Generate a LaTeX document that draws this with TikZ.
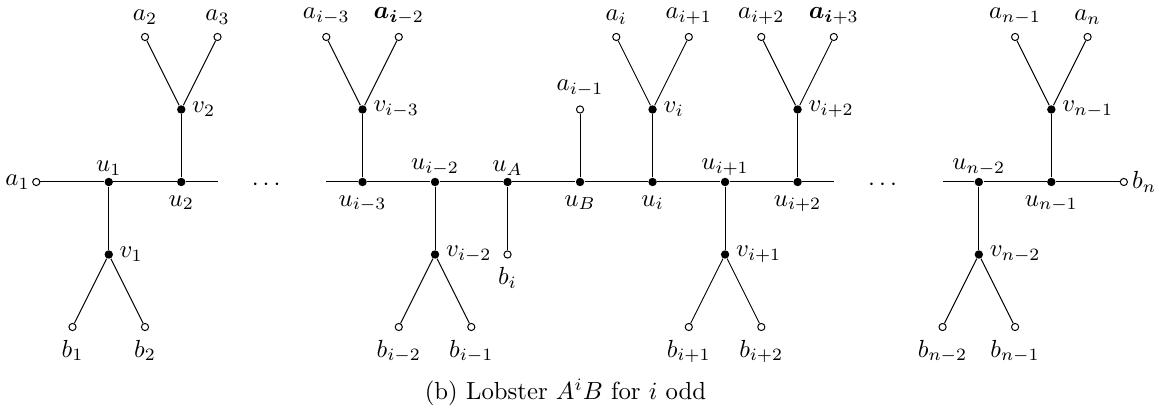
\documentclass[tikz,border=0pt]{standalone}
\usepackage{amsmath}
\usepackage{amssymb}
\usepackage{tikz}

\begin{document}
\begin{tikzpicture}[x=1.03cm,y=1.03cm,
  vtx/.style={circle,fill=black,inner sep=0pt,minimum size=3.4pt},
  leaf/.style={circle,draw=black,fill=white,inner sep=0pt,minimum size=2.9pt},
  up/.style={label={[label distance=-2.8pt]above:{#1}}},
  side/.style={label={[label distance=-1pt]right:{#1}}}]
\useasboundingbox (0,-3.145) rectangle (16.04,2.51);

% First block: a1 - u1 - u2
\node[leaf,label={[label distance=-2.5pt]left:{$a_1$}}] (a1) at (0.5,0) {};
\node[vtx,up={$u_1$}] (u1) at (1.5,0) {};
\node[vtx,label=below:{$u_2$}] (u2) at (2.5,0) {};
\coordinate (e1) at (3,0);
\node[vtx,side={$v_1$}] (v1) at (1.5,-1) {};
\node[vtx,side={$v_2$}] (v2) at (2.5,1) {};
\node[leaf,label=below:{$b_1$}] (b1) at (1,-2) {};
\node[leaf,label=below:{$b_2$}] (b2) at (2,-2) {};
\node[leaf,label=above:{$a_2$}] (a2) at (2,2) {};
\node[leaf,label=above:{$a_3$}] (a3) at (3,2) {};

\draw (a1) -- (u1) -- (u2) -- (e1);
\draw (u1) -- (v1);
\draw (b1) -- (v1) -- (b2);
\draw (u2) -- (v2);
\draw (a2) -- (v2) -- (a3);

\node[yshift=-1.1pt] (dots1) at (3.7,0) {$\cdots$};

% Middle block: u_{i-3} ... u_{i+2}
\coordinate (s2) at (4.5,0);
\coordinate (e2) at (11.5,0);
\node[vtx,label=below:{$u_{i-3}$}] (ui3) at (5,0) {};
\node[vtx,up={$u_{i-2}$}] (ui2) at (6,0) {};
\node[vtx,up={$u_A$}] (uA) at (7,0) {};
\node[vtx,label=below:{$u_B$}] (uB) at (8,0) {};
\node[vtx,label=below:{$u_i$}] (ui) at (9,0) {};
\node[vtx,up={$u_{i+1}$}] (uip1) at (10,0) {};
\node[vtx,label=below:{$u_{i+2}$}] (uip2) at (11,0) {};

\draw (s2) -- (ui3) -- (ui2) -- (uA) -- (uB) -- (ui) -- (uip1) -- (uip2) -- (e2);

\node[vtx,side={$v_{i-3}$}] (vi3) at (5,1) {};
\node[leaf,label=above:{$a_{i-3}$}] (ai3) at (4.5,2) {};
\node[leaf,label=above:{$\boldsymbol{a}_{\boldsymbol{i}-2}$}] (ai2) at (5.5,2) {};
\draw (ui3) -- (vi3);
\draw (ai3) -- (vi3) -- (ai2);

\node[vtx,side={$v_{i-2}$}] (vi2) at (6,-1) {};
\node[leaf,label=below:{$b_{i-2}$}] (bi2) at (5.5,-2) {};
\node[leaf,label=below:{$b_{i-1}$}] (bi1) at (6.5,-2) {};
\draw (ui2) -- (vi2);
\draw (bi2) -- (vi2) -- (bi1);

\node[leaf,label=below:{$b_i$}] (bi) at (7,-1) {};
\draw (uA) -- (bi);

\node[leaf,label=above:{$a_{i-1}$}] (ai1) at (8,1) {};
\draw (uB) -- (ai1);

\node[vtx,side={$v_i$}] (vi) at (9,1) {};
\node[leaf,label=above:{$a_i$}] (ai) at (8.5,2) {};
\node[leaf,label=above:{$a_{i+1}$}] (aip1) at (9.5,2) {};
\draw (ui) -- (vi);
\draw (ai) -- (vi) -- (aip1);

\node[vtx,side={$v_{i+1}$}] (vip1) at (10,-1) {};
\node[leaf,label=below:{$b_{i+1}$}] (bip1) at (9.5,-2) {};
\node[leaf,label=below:{$b_{i+2}$}] (bip2) at (10.5,-2) {};
\draw (uip1) -- (vip1);
\draw (bip1) -- (vip1) -- (bip2);

\node[vtx,side={$v_{i+2}$}] (vip2) at (11,1) {};
\node[leaf,label=above:{$a_{i+2}$}] (aip2) at (10.5,2) {};
\node[leaf,label=above:{$\boldsymbol{a}_{\boldsymbol{i}+3}$}] (aip3) at (11.5,2) {};
\draw (uip2) -- (vip2);
\draw (aip2) -- (vip2) -- (aip3);

\node[yshift=-1.1pt] (dots2) at (12.2,0) {$\cdots$};

% Last block: u_{n-2} - u_{n-1} - b_n
\coordinate (s3) at (13,0);
\node[vtx,up={$u_{n-2}$}] (un2) at (13.5,0) {};
\node[vtx,label=below:{$u_{n-1}$}] (un1) at (14.5,0) {};
\node[leaf,label={[label distance=-1.8pt]right:{$b_n$}}] (bn) at (15.5,0) {};
\draw (s3) -- (un2) -- (un1) -- (bn);

\node[vtx,side={$v_{n-2}$}] (vn2) at (13.5,-1) {};
\node[leaf,label=below:{$b_{n-2}$}] (bn2) at (13,-2) {};
\node[leaf,label=below:{$b_{n-1}$}] (bn1) at (14,-2) {};
\draw (un2) -- (vn2);
\draw (bn2) -- (vn2) -- (bn1);

\node[vtx,side={$v_{n-1}$}] (vn1) at (14.5,1) {};
\node[leaf,label=above:{$a_{n-1}$}] (an1) at (14,2) {};
\node[leaf,label=above:{$a_n$}] (an) at (15,2) {};
\draw (un1) -- (vn1);
\draw (an1) -- (vn1) -- (an);

% Caption
\node (cap) at (7.8,-2.9) {(b) Lobster $A^iB$ for $i$ odd};
\end{tikzpicture}
\end{document}
